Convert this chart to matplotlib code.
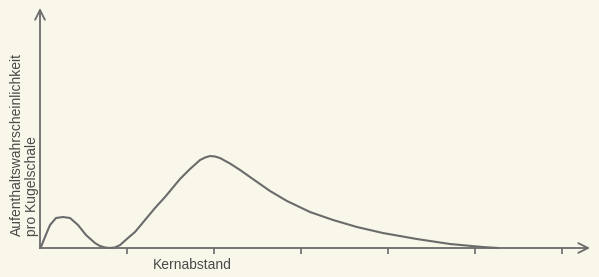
#!/usr/bin/env python3
import matplotlib

matplotlib.use("Agg")
import matplotlib.pyplot as plt

# curve (x in tick units, y in the same units)
DIST = [0.0, 0.011, 0.057, 0.115, 0.184, 0.264, 0.345, 0.437, 0.529, 0.632,
        0.690, 0.747, 0.805, 0.862, 0.920, 1.011, 1.092, 1.207, 1.322, 1.437,
        1.609, 1.724, 1.839, 1.897, 1.954, 2.011, 2.069, 2.184, 2.299, 2.414,
        2.644, 2.839, 3.103, 3.368, 3.644, 3.943, 4.333, 4.713, 5.092, 5.264]
PROB = [0.0, 0.011, 0.126, 0.264, 0.345, 0.356, 0.345, 0.264, 0.149, 0.057,
        0.023, 0.006, 0.0, 0.006, 0.034, 0.115, 0.184, 0.322, 0.460, 0.586,
        0.793, 0.908, 1.011, 1.040, 1.057, 1.052, 1.034, 0.971, 0.897, 0.816,
        0.655, 0.540, 0.414, 0.322, 0.241, 0.172, 0.103, 0.046, 0.011, 0.0]
TICKS = [1, 2, 3, 4, 5, 6]

Y_LABEL = "Aufenthaltswahrscheinlichkeit\npro Kugelschale"
X_LABEL = "Kernabstand"

BG = "#f8f7ea"
INK = "#6b6b6b"
TEXT = "#4a4a4a"

fig = plt.figure(figsize=(5.99, 2.77), dpi=100, facecolor=BG)
ax = fig.add_axes([0, 0, 1, 1], facecolor=BG)
ax.set_xlim(-40 / 87, 559 / 87)
ax.set_ylim(-29 / 87, 248 / 87)

for side in ("top", "right", "left", "bottom"):
    ax.spines[side].set_visible(False)
ax.spines["bottom"].set_position(("data", 0))
ax.set_yticks([])
ax.set_xticks(TICKS)
ax.set_xticklabels([])
ax.tick_params(axis="x", direction="out", length=4, width=1.2, color=INK)

arrow = dict(arrowstyle="->,head_length=0.7,head_width=0.35", color=INK,
             lw=1.3, shrinkA=0, shrinkB=0)
ax.annotate("", xy=(550 / 87, 0), xytext=(0, 0), arrowprops=arrow)
ax.annotate("", xy=(0, 240 / 87), xytext=(0, 0), arrowprops=arrow)

ax.plot(DIST, PROB, color=INK, lw=1.5, solid_capstyle="round",
        solid_joinstyle="round")

ax.text(-0.178, 12 / 87, Y_LABEL, rotation=90, ha="center", va="bottom",
        multialignment="left", color=TEXT, fontsize=10,
        family="Liberation Sans", linespacing=1.05)
ax.text(1.299, -0.195, X_LABEL, ha="left", va="center", color=TEXT,
        fontsize=10, family="Liberation Sans")

fig.savefig("out.png", dpi=100, facecolor=BG)
